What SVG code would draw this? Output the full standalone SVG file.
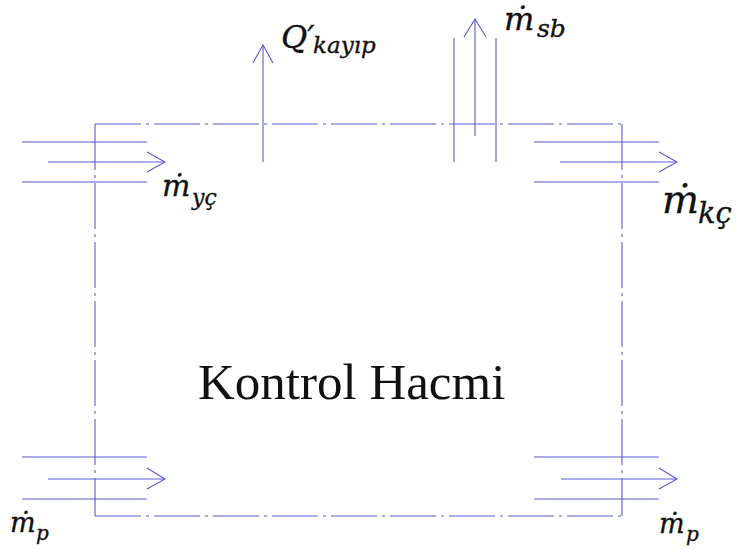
<svg xmlns="http://www.w3.org/2000/svg" width="742" height="550" viewBox="0 0 742 550">
  <style>
    .ln { stroke: #5a5ad2; stroke-width: 1.1; fill: none; }
    .cv { stroke: #5a5ad2; stroke-width: 1.1; fill: none; stroke-dasharray: 46 5 3 5; }
    .math { font-family: "DejaVu Serif", "Liberation Serif", serif; font-style: italic; fill: #111; stroke: #111; stroke-width: 0.35; }
    .title { font-family: "Liberation Serif", "Times New Roman", serif; font-size: 51px; fill: #111; }
  </style>
  <rect width="742" height="550" fill="#ffffff"/>

  <!-- control volume boundary and label -->
  <g id="control-volume">
    <path class="cv" d="M95,124 L622,124"/>
    <path class="cv" d="M622,124 L622,516"/>
    <path class="cv" d="M95,516 L622,516"/>
    <path class="cv" d="M95,124 L95,516"/>
    <text class="title" x="198" y="399">Kontrol Hacmi</text>
  </g>

  <!-- flow arrows crossing the boundary -->
  <g id="connectors">
    <g id="inlet-yc">
      <path class="ln" d="M22,142 H147 M48,162 H165 M22,182 H147"/>
      <path class="ln" d="M147,152 L165,162 L147,172"/>
    </g>
    <g id="outlet-kc">
      <path class="ln" d="M534,142 H659 M560,162 H677 M534,182 H659"/>
      <path class="ln" d="M659,152 L677,162 L659,172"/>
    </g>
    <g id="inlet-p">
      <path class="ln" d="M22,457 H147 M48,479 H165 M22,499 H147"/>
      <path class="ln" d="M147,468 L165,479 L147,489"/>
    </g>
    <g id="outlet-p">
      <path class="ln" d="M534,457 H659 M561,479 H677 M534,499 H659"/>
      <path class="ln" d="M659,468 L677,479 L659,489"/>
    </g>
    <g id="heat-loss">
      <path class="ln" d="M263,162 V45"/>
      <path class="ln" d="M253,63 L263,45 L273,63"/>
    </g>
    <g id="outlet-sb">
      <path class="ln" d="M454,38 V162 M496,38 V162 M475,136 V19"/>
      <path class="ln" d="M464,37 L475,19 L486,37"/>
    </g>
  </g>

  <!-- labels -->
  <g id="label-yc">
    <text class="math" x="162" y="196" font-size="30">ṁ</text>
    <text class="math" x="192" y="205" font-size="22">yç</text>
  </g>
  <g id="label-kayip">
    <text class="math" x="281" y="48" font-size="32">Q′</text>
    <text class="math" x="313" y="53" font-size="23">kayıp</text>
  </g>
  <g id="label-sb">
    <text class="math" x="504" y="30" font-size="32">ṁ</text>
    <text class="math" x="537" y="37" font-size="25">sb</text>
  </g>
  <g id="label-kc">
    <text class="math" x="662" y="213" font-size="39">ṁ</text>
    <text class="math" x="698" y="223" font-size="29">kç</text>
  </g>
  <g id="label-p-in">
    <text class="math" x="10" y="532" font-size="27">ṁ</text>
    <text class="math" x="36" y="540" font-size="20">p</text>
  </g>
  <g id="label-p-out">
    <text class="math" x="659" y="533" font-size="27">ṁ</text>
    <text class="math" x="686" y="541" font-size="20">p</text>
  </g>
</svg>
